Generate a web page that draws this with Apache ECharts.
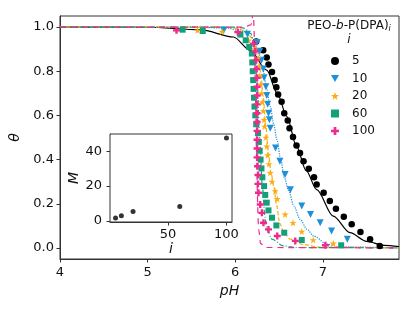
<!DOCTYPE html>
<html><head><meta charset="utf-8">
<script src="https://cdn.jsdelivr.net/npm/echarts@6/dist/echarts.min.js"></script>
<style>html,body{margin:0;padding:0;background:#fff}#c{width:415px;height:312px}</style>
</head><body><div id="c"></div>
<script>
// ---- data (pH, theta) ----
var pts5 = [[6.24,0.935],[6.32,0.895],[6.36,0.862],[6.38,0.83],[6.42,0.797],[6.45,0.76],[6.47,0.727],[6.49,0.695],[6.53,0.662],[6.56,0.61],[6.60,0.577],[6.62,0.542],[6.66,0.502],[6.70,0.464],[6.74,0.43],[6.78,0.392],[6.84,0.358],[6.90,0.32],[6.93,0.287],[7.01,0.25],[7.08,0.212],[7.15,0.177],[7.24,0.141],[7.33,0.107],[7.43,0.072],[7.54,0.039],[7.65,0.009]];
var pts10 = [[5.87,0.985],[6.14,0.967],[6.25,0.93],[6.28,0.89],[6.30,0.85],[6.32,0.81],[6.33,0.77],[6.35,0.73],[6.36,0.69],[6.37,0.65],[6.38,0.61],[6.39,0.58],[6.40,0.542],[6.46,0.452],[6.51,0.392],[6.57,0.332],[6.63,0.264],[6.76,0.19],[6.86,0.152],[6.97,0.114],[7.10,0.077],[7.28,0.039]];
var pts20 = [[5.57,0.985],[5.85,0.98],[6.05,0.97],[6.15,0.94],[6.22,0.90],[6.26,0.86],[6.27,0.82],[6.28,0.78],[6.29,0.74],[6.30,0.70],[6.31,0.66],[6.32,0.62],[6.33,0.58],[6.335,0.55],[6.35,0.50],[6.36,0.46],[6.37,0.42],[6.385,0.38],[6.40,0.34],[6.42,0.30],[6.457,0.257],[6.48,0.222],[6.57,0.152],[6.66,0.114],[6.76,0.074],[6.89,0.036],[7.12,0.021]];
var pts60 = [[5.40,0.988],[5.63,0.982],[6.06,0.966],[6.12,0.94],[6.16,0.91],[6.19,0.88],[6.195,0.84],[6.20,0.80],[6.205,0.76],[6.21,0.72],[6.215,0.68],[6.22,0.64],[6.23,0.60],[6.24,0.56],[6.26,0.52],[6.27,0.48],[6.28,0.44],[6.29,0.40],[6.30,0.36],[6.31,0.32],[6.33,0.28],[6.343,0.24],[6.36,0.205],[6.38,0.17],[6.42,0.137],[6.47,0.102],[6.56,0.069],[6.76,0.036],[7.21,0.012]];
var pts100 = [[5.33,0.985],[6.03,0.977],[6.21,0.925],[6.23,0.89],[6.24,0.85],[6.245,0.81],[6.25,0.77],[6.25,0.73],[6.25,0.69],[6.25,0.65],[6.25,0.61],[6.25,0.57],[6.25,0.53],[6.25,0.49],[6.25,0.45],[6.25,0.41],[6.255,0.37],[6.26,0.33],[6.26,0.29],[6.266,0.25],[6.286,0.197],[6.305,0.159],[6.323,0.114],[6.38,0.084],[6.48,0.054],[6.686,0.032],[7.03,0.012]];

// fitted curves
var fit5 = [[4,1],[5.0,0.999],[5.6,0.988],[5.98,0.955],[6.17,0.895],[6.36,0.805],[6.48,0.70],[6.59,0.595],[6.70,0.46],[6.81,0.35],[6.93,0.264],[7.12,0.144],[7.31,0.069],[7.50,0.03],[7.70,0.012],[7.87,0.006]];
var fit10 = [[4,1],[5.5,1],[5.9,0.995],[6.1,0.98],[6.2,0.95],[6.27,0.88],[6.32,0.80],[6.36,0.72],[6.40,0.64],[6.44,0.56],[6.476,0.49],[6.52,0.40],[6.56,0.32],[6.61,0.26],[6.67,0.19],[6.74,0.13],[6.82,0.085],[6.895,0.054],[7.05,0.017],[7.2,0.005],[7.87,0]];
var fit20 = [[4,1],[5.8,1],[6.0,0.995],[6.1,0.985],[6.2,0.95],[6.25,0.9],[6.29,0.8],[6.32,0.68],[6.35,0.55],[6.38,0.43],[6.41,0.34],[6.44,0.28],[6.47,0.20],[6.51,0.11],[6.56,0.065],[6.63,0.04],[6.78,0.015],[6.95,0.004],[7.87,0]];
var fit60 = [[4,1],[6.0,1],[6.1,0.995],[6.18,0.97],[6.22,0.9],[6.25,0.75],[6.28,0.5],[6.31,0.28],[6.34,0.14],[6.36,0.084],[6.42,0.04],[6.55,0.009],[6.7,0.002],[7.87,0]];
var fit100 = [[4,1],[6.1,1],[6.18,1.01],[6.205,1.06],[6.27,0.08],[6.29,0.02],[6.35,0.002],[7.87,0]];

// inset: M vs i
var insetI = [5, 10, 20, 60, 100];
var insetM = [1.6, 2.9, 5.4, 8.2, 47.7];

var seriesNames = ['5', '10', '20', '60', '100'];
var xTicks = [4, 5, 6, 7];
var yTicks = [0, 0.2, 0.4, 0.6, 0.8, 1.0];
var insetXTicks = [50, 100];
var insetYTicks = [0, 20, 40];

var colors = ['#000000', '#1f8fd8', '#fcad12', '#12a07a', '#ee2a8c'];
var symbols = [
  'circle',
  'path://M0,0 L10,0 L5,8.66 Z',
  'path://M5,0 L6.18,3.55 L9.76,3.55 L6.91,5.74 L7.94,9.27 L5,7.1 L2.06,9.27 L3.09,5.74 L0.24,3.55 L3.82,3.55 Z',
  'rect',
  'path://M3.3,0 H6.7 V3.3 H10 V6.7 H6.7 V10 H3.3 V6.7 H0 V3.3 H3.3 Z'
];
var symSizes = [6.5, 7, 7, 6, 7];
var lineTypes = ['solid', 'dotted', [4, 2], [5, 2, 1, 2], [6, 5]];

var FONT = 'DejaVu Sans';
var ptsAll = [pts5, pts10, pts20, pts60, pts100];
var fitsAll = [fit5, fit10, fit20, fit60, fit100];

var series = [];
for (var k = 0; k < 5; k++) {
  series.push({
    name: 'fit' + seriesNames[k], type: 'line', xAxisIndex: 0, yAxisIndex: 0,
    data: fitsAll[k], showSymbol: false, symbol: 'none', smooth: 0.3, smoothMonotone: 'x',
    clip: true, z: 3,
    lineStyle: { color: colors[k], width: 1.2, type: lineTypes[k] },
    silent: true
  });
}
for (var k2 = 0; k2 < 5; k2++) {
  series.push({
    name: seriesNames[k2], type: 'scatter', xAxisIndex: 0, yAxisIndex: 0,
    data: ptsAll[k2], symbol: symbols[k2], symbolSize: symSizes[k2], z: 4,
    itemStyle: { color: colors[k2], opacity: 1 }
  });
}
series.push({
  name: 'inset', type: 'scatter', xAxisIndex: 1, yAxisIndex: 1,
  data: insetI.map(function (v, i) { return [v, insetM[i]]; }),
  symbol: 'circle', symbolSize: 5, z: 10, itemStyle: { color: '#000' }
});

var axisCommon = function () {
  return {
    axisLine: { show: true, onZero: false, lineStyle: { color: '#333', width: 1 } },
    axisTick: { show: true, length: 3.5, lineStyle: { color: '#333' } },
    splitLine: { show: false },
    axisLabel: { color: '#111', fontFamily: FONT, fontSize: 13 }
  };
};

var xMain = axisCommon();
Object.assign(xMain, { type: 'value', gridIndex: 0, min: 4, max: 7.87,
  name: 'pH', nameLocation: 'middle', nameGap: 17,
  nameTextStyle: { fontFamily: FONT, fontSize: 14, fontStyle: 'italic', color: '#111' } });
xMain.axisTick.customValues = xTicks;
xMain.axisLabel.customValues = xTicks;
xMain.axisLabel.margin = 7;

var yMain = axisCommon();
Object.assign(yMain, { type: 'value', gridIndex: 0, min: -0.05, max: 1.05,
  name: 'θ', nameLocation: 'middle', nameGap: 25, nameRotate: 90,
  nameTextStyle: { fontFamily: FONT, fontSize: 14, fontStyle: 'italic', color: '#111' } });
yMain.axisTick.customValues = yTicks;
yMain.axisLabel.customValues = yTicks;
yMain.axisLabel.formatter = function (v) { return v.toFixed(1); };
yMain.axisLabel.margin = 6;

var xIn = axisCommon();
Object.assign(xIn, { type: 'value', gridIndex: 1, min: 0.25, max: 104.75,
  name: 'i', nameLocation: 'middle', nameGap: 19,
  nameTextStyle: { fontFamily: FONT, fontSize: 14, fontStyle: 'italic', color: '#111' } });
xIn.axisTick.customValues = insetXTicks;
xIn.axisLabel.customValues = insetXTicks;
xIn.axisLabel.margin = 6;

var yIn = axisCommon();
Object.assign(yIn, { type: 'value', gridIndex: 1, min: -0.7, max: 50,
  name: 'M', nameLocation: 'middle', nameGap: 26, nameRotate: 90,
  nameTextStyle: { fontFamily: FONT, fontSize: 14, fontStyle: 'italic', color: '#111' } });
yIn.axisTick.customValues = insetYTicks;
yIn.axisLabel.customValues = insetYTicks;
yIn.axisLabel.margin = 8;

var chart = echarts.init(document.getElementById('c'), null, { renderer: 'canvas' });
chart.setOption({
  animation: false,
  backgroundColor: '#fff',
  textStyle: { fontFamily: FONT },
  grid: [
    { left: 60, top: 16, width: 339, height: 243, show: true, borderColor: '#333', borderWidth: 1, backgroundColor: 'transparent', z: 0 },
    { left: 110, top: 134, width: 122, height: 88, show: true, borderColor: '#333', borderWidth: 1, backgroundColor: '#fff', z: 5 }
  ],
  xAxis: [xMain, xIn],
  yAxis: [yMain, yIn],
  legend: {
    data: seriesNames.map(function (n, i) { return { name: n, icon: symbols[i] }; }),
    orient: 'vertical', left: 326, top: 50,
    itemWidth: 8, itemHeight: 8, itemGap: 5.5,
    textStyle: { fontFamily: FONT, fontSize: 12, color: '#111', lineHeight: 12, padding: [0, 0, 0, 8] },
    selectedMode: false
  },
  graphic: [
    { type: 'text', x: 349, y: 19, style: { text: '{n|PEO-}{b|b}{n|-P(DPA)}{s|i}', textAlign: 'center',
      rich: { n: { fontFamily: FONT, fontSize: 12, fill: '#111' }, b: { fontFamily: FONT, fontSize: 12, fontStyle: 'italic', fill: '#111' },
              s: { fontFamily: FONT, fontSize: 8, fontStyle: 'italic', fill: '#111', verticalAlign: 'bottom', padding: [6, 0, 0, 0] } } } },
    { type: 'text', x: 349, y: 34, style: { text: 'i', textAlign: 'center', fontFamily: FONT, fontSize: 12, fontStyle: 'italic', fill: '#111' } }
  ],
  series: series
});
</script></body></html>
